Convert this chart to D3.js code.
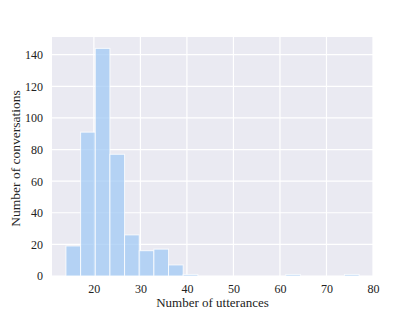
<!DOCTYPE html>
<html>
<head>
<meta charset="utf-8">
<script src="https://cdn.jsdelivr.net/npm/d3@7"></script>
<style>
  body { margin: 0; background: #fff; }
  text { font-family: "Liberation Serif", "Times New Roman", serif; fill: #222; }
</style>
</head>
<body>
<div id="chart"></div>
<script>
// histogram data
const binStart = 14;
const binEnd = 77;
const counts = [19, 91, 144, 77, 26, 16, 17, 7, 1, 0, 0, 0, 0, 0, 0, 1, 0, 0, 0, 1];
const xTicks = [20, 30, 40, 50, 60, 70, 80];
const yTicks = [0, 20, 40, 60, 80, 100, 120, 140];

const margin = {top: 37, right: 42, bottom: 35, left: 52},
  width = 415 - margin.left - margin.right,
  height = 311 - margin.top - margin.bottom;

const svg = d3.select("#chart")
  .append("svg")
  .attr("width", 415)
  .attr("height", 311)
  .append("g")
  .attr("transform", `translate(${margin.left}, ${margin.top})`);

const binWidth = (binEnd - binStart) / counts.length;
const bins = counts.map((c, i) => ({x0: binStart + i * binWidth, x1: binStart + (i + 1) * binWidth, n: c}));

const x = d3.scaleLinear().domain([11, 80]).range([0, width]);
const y = d3.scaleLinear().domain([0, 151.2]).range([height, 0]);

// background
svg.append("rect")
  .attr("width", width)
  .attr("height", height)
  .attr("fill", "#eaeaf2");

// grid
svg.append("g")
  .selectAll("line")
  .data(xTicks)
  .join("line")
  .attr("x1", d => x(d)).attr("x2", d => x(d))
  .attr("y1", 0).attr("y2", height)
  .attr("stroke", "#fff").attr("stroke-width", 1.2);
svg.append("g")
  .selectAll("line")
  .data(yTicks)
  .join("line")
  .attr("x1", 0).attr("x2", width)
  .attr("y1", d => y(d)).attr("y2", d => y(d))
  .attr("stroke", "#fff").attr("stroke-width", 1.2);

// bars
svg.append("g")
  .selectAll("rect")
  .data(bins.filter(d => d.n > 0))
  .join("rect")
  .attr("x", d => x(d.x0))
  .attr("y", d => y(d.n))
  .attr("width", d => x(d.x1) - x(d.x0))
  .attr("height", d => height - y(d.n))
  .attr("fill", "#a1c9f4")
  .attr("fill-opacity", 0.75)
  .attr("stroke", "#fff")
  .attr("stroke-opacity", 0.8)
  .attr("stroke-width", 1);

// axes
const xAxis = svg.append("g")
  .attr("transform", `translate(0, ${height})`)
  .call(d3.axisBottom(x).tickValues(xTicks).tickSize(0).tickPadding(8));
const yAxis = svg.append("g")
  .call(d3.axisLeft(y).tickValues(yTicks).tickSize(0).tickPadding(9));
[xAxis, yAxis].forEach(a => {
  a.select(".domain").remove();
  a.selectAll("text").attr("font-size", 12).attr("fill", "#222")
    .style("font-family", '"Liberation Serif", serif');
});

// labels
svg.append("text")
  .attr("x", width / 2)
  .attr("y", height + 31)
  .attr("text-anchor", "middle")
  .attr("font-size", 13)
  .text("Number of utterances");

svg.append("text")
  .attr("transform", `translate(${-32}, ${height / 2 + 2}) rotate(-90)`)
  .attr("text-anchor", "middle")
  .attr("font-size", 13.5)
  .text("Number of conversations");
</script>
</body>
</html>
